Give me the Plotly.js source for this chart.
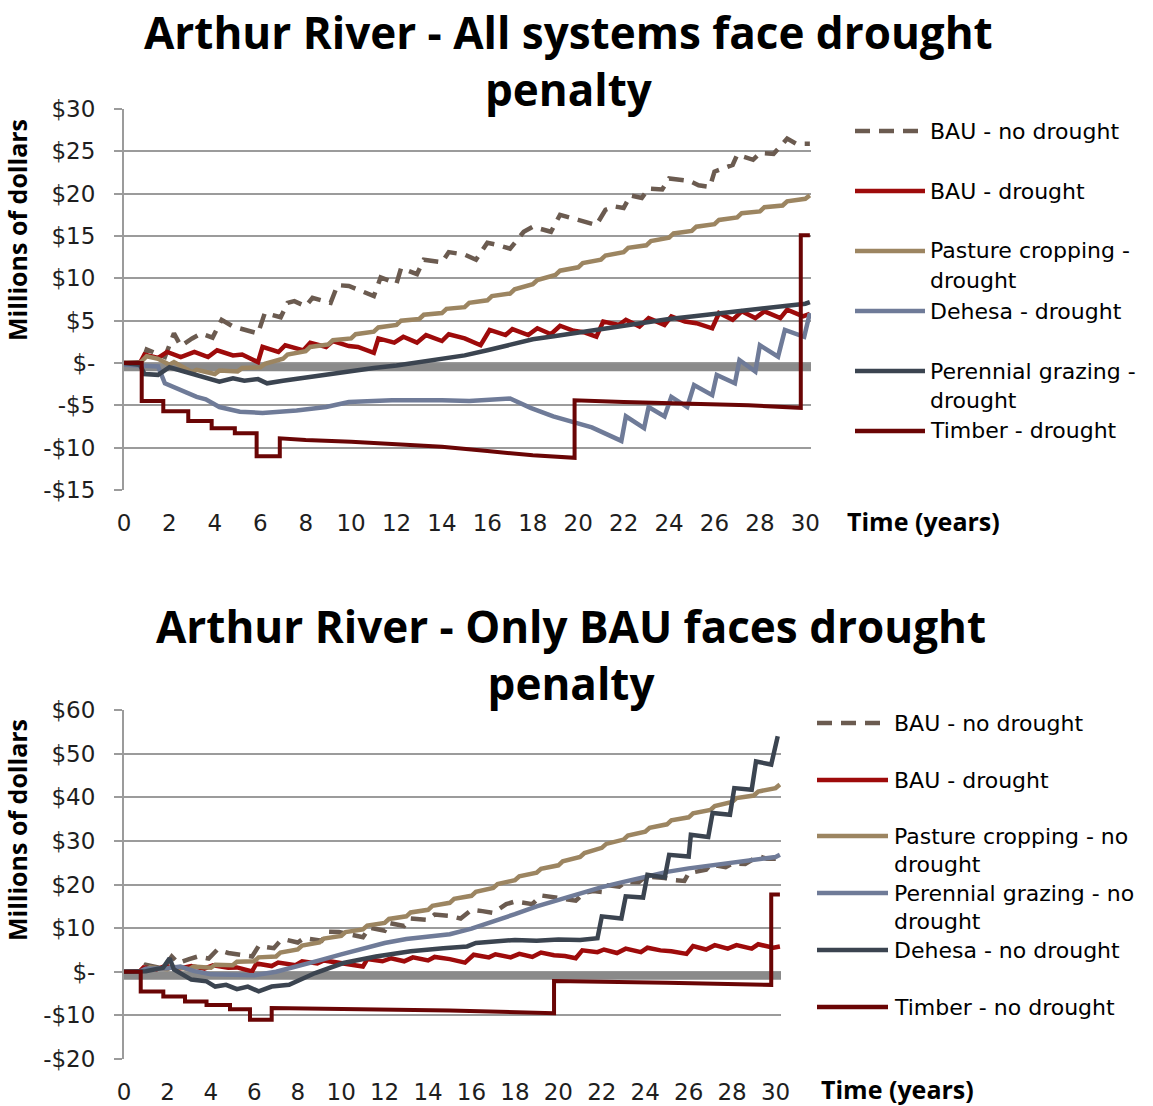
<!DOCTYPE html>
<html><head><meta charset="utf-8">
<script src="https://cdn.plot.ly/plotly-3.0.1.min.js"></script>
<style>body{margin:0;background:#fff}#chart{width:1153px;height:1106px}</style>
</head><body><div id="chart"></div>
<script>
// ---------- DATA ----------
const xTicks = [0,2,4,6,8,10,12,14,16,18,20,22,24,26,28,30];
const xTickText = ["0","2","4","6","8","10","12","14","16","18","20","22","24","26","28","30"];
const yTicksTop = [30,25,20,15,10,5,0,-5,-10,-15];
const yTickTextTop = ["$30","$25","$20","$15","$10","$5","$-","-$5","-$10","-$15"];
const yTicksBot = [60,50,40,30,20,10,0,-10,-20];
const yTickTextBot = ["$60","$50","$40","$30","$20","$10","$-","-$10","-$20"];

// BAU - no drought (same series in both charts)
const bauNoDrought_t = [0,0.8,1.0,1.8,2.2,2.5,3.0,3.4,3.9,4.3,4.8,5.4,5.9,6.2,6.9,7.2,7.5,8.0,8.3,9.1,9.4,9.9,10.5,11.0,11.3,12.0,12.2,12.9,13.2,14.0,14.3,15.0,15.5,16.0,16.5,17.0,17.6,18.0,18.8,19.2,20.0,20.8,21.2,21.6,22.0,22.3,22.8,23.1,23.7,24.0,24.9,25.3,25.8,26.0,26.8,27.0,27.7,28.0,28.6,29.2,29.6,30.2];
const bauNoDrought_v = [0,0.1,1.6,0.7,3.5,2.0,2.9,3.5,3.0,5.1,4.3,3.9,3.5,5.9,5.4,7.1,7.3,6.7,7.7,7.1,9.2,9.1,8.5,7.9,10.1,9.4,11.2,10.5,12.2,11.9,13.1,12.8,12.2,14.2,13.9,13.5,15.5,16.1,15.5,17.5,16.9,16.3,18.1,18.5,18.3,19.8,19.5,20.6,20.5,21.8,21.5,21.0,20.8,22.6,23.4,24.6,24.0,24.8,24.7,26.5,25.9,25.9];

// BAU - drought (same series in both charts)
const bauDrought_t = [0,0.7,0.9,1.5,1.9,2.5,3.1,3.7,4.1,4.8,5.2,5.9,6.1,6.8,7.1,7.9,8.2,8.9,9.2,9.9,10.3,11.0,11.2,11.9,12.3,12.9,13.3,14.0,14.3,15.0,15.7,16.1,16.8,17.1,17.8,18.2,18.8,19.2,19.8,20.3,20.8,21.1,21.8,22.1,22.7,23.1,23.8,24.1,24.7,25.2,25.9,26.2,26.8,27.2,27.8,28.2,28.9,29.2,29.9,30.2];
const bauDrought_v = [0,0,1.0,0.6,1.3,0.7,1.3,0.7,1.5,0.9,1.0,0.1,1.9,1.3,2.1,1.5,2.4,1.9,2.6,2.0,1.9,1.2,2.9,2.4,3.1,2.4,3.3,2.6,3.4,2.9,2.1,3.9,3.3,4.0,3.3,4.1,3.4,4.4,3.8,3.6,3.1,4.9,4.5,5.1,4.3,5.3,4.5,5.5,4.9,4.7,4.1,5.9,5.1,6.1,5.3,6.1,5.3,6.3,5.5,5.8];

// Top chart: Pasture cropping - drought
const pcDrought_t = [0,0.7,1.0,1.5,2.0,2.2,3.0,3.2,4.0,4.2,5.0,5.2,6.0,6.2,7.0,7.2,8.0,8.2,9.0,9.2,10.0,10.2,11.0,11.2,12.0,12.2,13.0,13.2,14.0,14.2,15.0,15.2,16.0,16.2,17.0,17.2,18.0,18.2,19.0,19.2,20.0,20.2,21.0,21.2,22.0,22.2,23.0,23.2,24.0,24.2,25.0,25.2,26.0,26.2,27.0,27.2,28.0,28.2,29.0,29.2,30.0,30.2];
const pcDrought_v = [0,0,0.8,0.5,-0.2,0.1,-1.1,-0.8,-1.3,-0.9,-1.0,-0.6,-0.5,-0.1,0.5,1.0,1.4,1.9,2.2,2.7,2.9,3.4,3.7,4.2,4.5,5.0,5.2,5.7,5.9,6.4,6.6,7.1,7.4,7.9,8.2,8.7,9.3,9.8,10.4,10.9,11.3,11.8,12.2,12.7,13.1,13.6,13.9,14.4,14.8,15.3,15.6,16.1,16.4,16.9,17.2,17.7,17.9,18.4,18.6,19.1,19.4,19.8];

// Top chart: Dehesa - drought
const dehDrought_t = [0,1.5,1.8,2.5,3.2,3.6,4.2,5.1,6.1,7.6,8.9,9.9,11.8,14.0,15.2,17.0,17.9,18.9,20.6,21.9,22.1,22.9,23.1,23.8,24.1,24.8,25.1,25.9,26.1,26.9,27.1,27.8,28.0,28.8,29.1,29.95,30.2];
const dehDrought_v = [-0.2,-0.4,-2.4,-3.2,-4.0,-4.3,-5.2,-5.75,-5.9,-5.6,-5.2,-4.6,-4.4,-4.4,-4.5,-4.2,-5.3,-6.3,-7.6,-9.2,-6.3,-7.7,-5.2,-6.3,-4.0,-5.2,-2.6,-3.8,-1.4,-2.4,0.35,-1.0,2.1,0.75,3.9,3.1,5.9];

// Top chart: Perennial grazing - drought
const pgDrought_t = [0,0.7,0.9,1.5,2.0,2.4,3.0,3.5,4.2,4.8,5.3,5.9,6.3,7.0,8.0,9,10,11,12,13,14,15,16,17,18,19,20,21,22,23,24,25,26,27,28,29,30,30.2];
const pgDrought_v = [0,-0.2,-1.3,-1.4,-0.5,-0.8,-1.2,-1.6,-2.2,-1.8,-2.1,-1.9,-2.4,-2.1,-1.7,-1.4,-1.0,-0.6,-0.3,0.1,0.45,0.9,1.5,2.2,2.8,3.2,3.6,4.0,4.4,4.9,5.2,5.5,5.8,6.1,6.3,6.6,7.0,7.2];

// Top chart: Timber - drought
const timDrought_t = [0,0.78,0.78,1.73,1.73,2.83,2.83,3.86,3.86,4.88,4.88,5.84,5.84,6.86,6.86,8,10,12,14,16,18,19.84,19.84,22,25,27.5,29.8,29.8,30.2];
const timDrought_v = [0,0,-4.5,-4.5,-5.7,-5.7,-6.85,-6.85,-7.7,-7.7,-8.3,-8.3,-11.0,-11.0,-8.9,-9.1,-9.3,-9.6,-9.9,-10.4,-10.9,-11.2,-4.4,-4.6,-4.8,-5.0,-5.3,15.1,15.1];

// Bottom chart: Pasture cropping - no drought
const pcNoDrought_t = [0,0.7,1,1.2,2,2.2,3,3.2,4,4.2,5,5.2,6,6.2,7,7.2,8,8.2,9,9.2,10,10.2,11,11.2,12,12.2,13,13.2,14,14.2,15,15.2,16,16.2,17,17.2,18,18.2,19,19.2,20,20.2,21,21.2,22,22.2,23,23.2,24,24.2,25,25.2,26,26.2,27,27.2,28,28.2,29,29.2,30,30.2];
const pcNoDrought_v = [0,0,0.3,1.0,0.6,1.2,0.6,1.2,0.9,1.6,1.5,2.3,2.4,3.3,3.5,4.4,5.1,6.0,6.7,7.6,8.2,9.1,9.7,10.6,11.2,12.1,12.7,13.6,14.2,15.1,15.8,16.7,17.4,18.3,19.2,20.1,21.0,21.9,22.7,23.6,24.4,25.3,26.3,27.2,28.4,29.3,30.3,31.2,32.1,33.0,33.8,34.7,35.4,36.3,37.1,38.0,38.9,39.8,40.4,41.3,42.1,42.9];

// Bottom chart: Perennial grazing - no drought
const pgNoDrought_t = [0,0.7,1.0,2.0,2.6,3.2,4,5,6,7,8,9,10,11,12,13,14,15,16,17,18,19,20,21,22,23,24,25,26,27,28,29,30,30.2];
const pgNoDrought_v = [0,0,0.7,0.8,1.2,0.2,-0.6,-0.7,-0.8,0.0,1.2,2.6,4.0,5.3,6.6,7.5,8.1,8.6,9.9,11.5,13.2,15.0,16.5,18.0,19.4,20.6,21.8,22.9,23.7,24.4,25.0,25.7,26.3,26.8];

// Bottom chart: Dehesa - no drought
const dehNoDrought_t = [0,0.7,1.0,1.8,2.1,2.3,3.1,3.8,4.2,4.7,5.2,5.7,6.2,6.8,7.6,8.8,10.1,11.6,13.2,14.7,15.8,16.2,17,18,19,20,21,21.8,22.0,22.9,23.1,23.9,24.1,24.9,25.1,26.0,26.1,26.9,27.1,27.9,28.1,28.9,29.1,29.8,30.1];
const dehNoDrought_v = [0,0,0.1,0.9,3.1,0.5,-1.8,-2.2,-3.4,-3.0,-4.0,-3.4,-4.5,-3.4,-3.0,-0.3,2.0,3.5,4.7,5.4,5.8,6.6,7.0,7.3,7.1,7.4,7.3,7.7,12.7,12.2,17.3,17.0,22.2,21.6,26.8,26.4,31.4,30.9,36.4,36.0,42.1,41.7,48.2,47.5,54.0];

// Bottom chart: Timber - no drought
const timNoDrought_t = [0,0.77,0.77,1.81,1.81,2.81,2.81,3.8,3.8,4.88,4.88,5.8,5.8,6.8,6.8,10,15,19.8,19.8,25,29.8,29.8,30.2];
const timNoDrought_v = [0,0,-4.5,-4.5,-5.7,-5.7,-6.8,-6.8,-7.6,-7.6,-8.6,-8.6,-11.0,-11.0,-8.3,-8.5,-8.9,-9.5,-2.1,-2.5,-3.0,17.7,17.7];

// Baseline band
const band_t = [0, 30.25];
const bandTop_v = [-0.5, -0.5];
const bandBot_v = [-0.9, -0.9];

// ---------- STYLE ----------
const W = 1153, H = 1106;
const px = x => x / W, py = y => 1 - y / H;
const C = {
  bauNo: '#6b5b50', bau: '#9e0b0b', pc: '#9c8561', light: '#6f7b98', dark: '#3b4450', timber: '#6a0505', band: '#8a8a8a'
};
const FONT = 'Open Sans, DejaVu Sans, sans-serif';
const TFONT = 'DejaVu Sans, Open Sans, sans-serif';

function ln(t, v, color, width, dash, xa, ya) {
  return {x: t, y: v, type: 'scatter', mode: 'lines', xaxis: xa, yaxis: ya,
    line: {color: color, width: width, dash: dash || 'solid'}, showlegend: false, hoverinfo: 'skip'};
}
const DASH = '15px,9px';
const traces = [
  ln(band_t, bandTop_v, C.band, 8, null, 'x', 'y'),
  ln(bauNoDrought_t, bauNoDrought_v, C.bauNo, 4.5, DASH, 'x', 'y'),
  ln(bauDrought_t, bauDrought_v, C.bau, 4.5, null, 'x', 'y'),
  ln(pcDrought_t, pcDrought_v, C.pc, 4.5, null, 'x', 'y'),
  ln(dehDrought_t, dehDrought_v, C.light, 4.5, null, 'x', 'y'),
  ln(pgDrought_t, pgDrought_v, C.dark, 4.5, null, 'x', 'y'),
  ln(timDrought_t, timDrought_v, C.timber, 4, null, 'x', 'y'),

  ln(band_t, bandBot_v, C.band, 8, null, 'x2', 'y2'),
  ln(bauNoDrought_t, bauNoDrought_v, C.bauNo, 4.5, DASH, 'x2', 'y2'),
  ln(bauDrought_t, bauDrought_v, C.bau, 4.5, null, 'x2', 'y2'),
  ln(pcNoDrought_t, pcNoDrought_v, C.pc, 4.5, null, 'x2', 'y2'),
  ln(pgNoDrought_t, pgNoDrought_v, C.light, 4.5, null, 'x2', 'y2'),
  ln(dehNoDrought_t, dehNoDrought_v, C.dark, 4.5, null, 'x2', 'y2'),
  ln(timNoDrought_t, timNoDrought_v, C.timber, 4, null, 'x2', 'y2')
];

const gridC = '#9b9b9b';
function yax(dom, range, tv, tt, anchor) {
  return {domain: dom, range: range, tickvals: tv, ticktext: tt, anchor: anchor,
    showgrid: true, gridcolor: gridC, gridwidth: 2, zeroline: false,
    showline: true, linecolor: gridC, linewidth: 2,
    ticks: 'outside', ticklen: 8, tickwidth: 2, tickcolor: gridC,
    tickfont: {family: TFONT, size: 23, color: '#1e1e1e'}, ticklabelstandoff: 14, fixedrange: true};
}
function xax(dom, anchor) {
  return {domain: dom, range: [0, 30.25], tickvals: xTicks, ticktext: xTickText, anchor: anchor,
    showgrid: false, zeroline: false, showline: false, ticks: '',
    tickfont: {family: TFONT, size: 23, color: '#1e1e1e'}, ticklabelstandoff: 17, fixedrange: true};
}

const ann = [];
function txt(text, x, y, size, bold, xanchor, yanchor, angle, align, fam) {
  ann.push({text: bold ? '<b>' + text + '</b>' : text, x: px(x), y: py(y), xref: 'paper', yref: 'paper',
    xanchor: xanchor || 'center', yanchor: yanchor || 'middle', align: align || 'left', showarrow: false, textangle: angle || 0,
    borderpad: 0, font: {family: fam || FONT, size: size, color: '#000'}});
}
// titles (two lines each)
txt('Arthur River - All systems face drought<br>penalty', 568, 1, 44, true, 'center', 'top', 0, 'center');
txt('Arthur River - Only BAU faces drought<br>penalty', 571, 654, 44, true, 'center', 'middle', 0, 'center');
// axis titles
txt('Millions of dollars', 17, 230, 25, true, 'center', 'middle', -90);
txt('Millions of dollars', 17, 830, 25, true, 'center', 'middle', -90);
txt('Time (years)', 846, 521, 25, true, 'left', 'middle');
txt('Time (years)', 820, 1089, 25, true, 'left', 'middle');

// legends (drawn manually to match the fixed spacing of the original)
const LF = 22;
const shapes = [];
function legItem(lines, color, dash, x0, x1, tx, y, lh) {
  shapes.push({type: 'line', xref: 'paper', yref: 'paper', x0: px(x0), x1: px(x1), y0: py(y), y1: py(y),
    line: {color: color, width: 4.5, dash: dash || 'solid'}});
  lines.forEach((s, i) => txt(s, tx, y + i * lh, LF, false, 'left', 'middle', 0, 'left', TFONT));
}
const legTopLabels = [['BAU - no drought'], ['BAU - drought'], ['Pasture cropping -', 'drought'], ['Dehesa - drought'], ['Perennial grazing -', 'drought'], ['Timber - drought']];
const legBotLabels = [['BAU - no drought'], ['BAU - drought'], ['Pasture cropping - no', 'drought'], ['Perennial grazing - no', 'drought'], ['Dehesa - no drought'], ['Timber - no drought']];
legItem(legTopLabels[0], C.bauNo, DASH, 855, 920, 929, 131, 30);
legItem(legTopLabels[1], C.bau, null, 855, 925, 929, 191, 30);
legItem(legTopLabels[2], C.pc, null, 855, 925, 929, 251, 30);
legItem(legTopLabels[3], C.light, null, 855, 925, 929, 311, 30);
legItem(legTopLabels[4], C.dark, null, 855, 925, 929, 371, 30);
legItem(legTopLabels[5], C.timber, null, 855, 925, 929, 431, 30);

legItem(legBotLabels[0], C.bauNo, DASH, 817, 882, 893, 723, 28);
legItem(legBotLabels[1], C.bau, null, 817, 888, 893, 780, 28);
legItem(legBotLabels[2], C.pc, null, 817, 888, 893, 836, 28);
legItem(legBotLabels[3], C.light, null, 817, 888, 893, 893, 28);
legItem(legBotLabels[4], C.dark, null, 817, 888, 893, 950, 28);
legItem(legBotLabels[5], C.timber, null, 817, 888, 893, 1007, 28);

const layout = {
  width: W, height: H, margin: {l: 0, r: 0, t: 0, b: 0, pad: 0},
  paper_bgcolor: '#fff', plot_bgcolor: '#fff', showlegend: false,
  xaxis: xax([px(124), px(811)], 'y'),
  yaxis: yax([py(490), py(109)], [-15, 30], yTicksTop, yTickTextTop, 'x'),
  xaxis2: xax([px(124), px(781)], 'y2'),
  yaxis2: yax([py(1059), py(710)], [-20, 60], yTicksBot, yTickTextBot, 'x2'),
  annotations: ann, shapes: shapes, font: {family: FONT}
};
Plotly.newPlot('chart', traces, layout, {staticPlot: true, displayModeBar: false});
</script></body></html>
